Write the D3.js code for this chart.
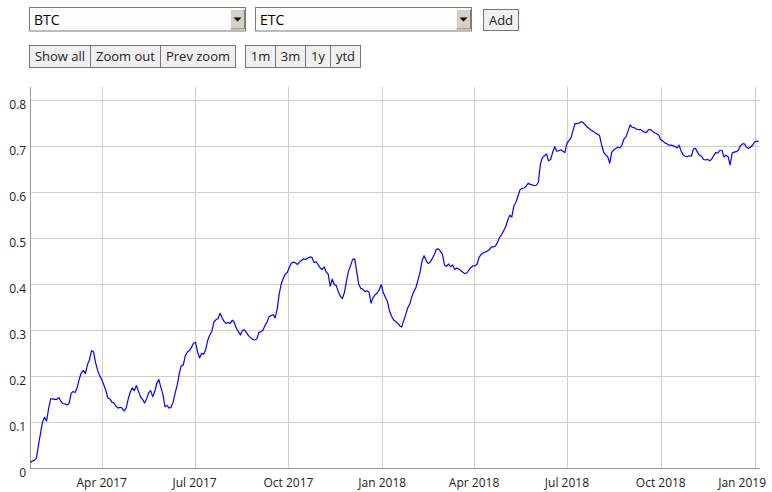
<!DOCTYPE html>
<html><head><meta charset="utf-8">
<script src="https://cdn.jsdelivr.net/npm/d3@7"></script>
<style>
body{margin:0;background:#fff;}
svg{display:block;font-family:"Open Sans",sans-serif;}
</style>
</head><body>
<svg id="c" width="772" height="492"></svg>
<script>
// ---- data ----
const startDate = "2017-01-21";
const stepDays = 2;
const values = [
.012,.015,.017,.021,.050,.075,.100,.110,.102,.130,
.150,.150,.149,.149,.153,.145,.140,.139,.137,.140,
.162,.166,.164,.175,.193,.207,.212,.205,.224,.235,
.255,.252,.229,.212,.200,.192,.181,.169,.152,.150,
.143,.141,.134,.130,.132,.130,.124,.130,.150,.165,
.174,.168,.179,.167,.155,.149,.141,.150,.163,.168,
.155,.166,.184,.192,.175,.160,.133,.136,.130,.132,
.143,.163,.180,.205,.222,.224,.244,.252,.255,.262,
.271,.273,.252,.239,.249,.247,.258,.278,.289,.297,
.317,.322,.324,.336,.326,.318,.314,.316,.314,.321,
.316,.303,.296,.289,.299,.300,.294,.287,.283,.279,
.278,.280,.294,.296,.299,.309,.317,.328,.331,.333,
.326,.345,.378,.400,.412,.421,.425,.436,.445,.447,
.445,.442,.447,.451,.454,.453,.456,.458,.458,.446,
.448,.442,.435,.431,.437,.426,.421,.395,.410,.398,
.396,.382,.373,.368,.382,.407,.428,.440,.453,.454,
.426,.399,.390,.388,.383,.385,.382,.358,.370,.376,
.380,.387,.398,.381,.371,.362,.342,.330,.322,.318,
.315,.309,.306,.320,.333,.348,.356,.372,.383,.392,
.408,.425,.450,.461,.451,.444,.447,.455,.463,.475,
.476,.471,.464,.441,.438,.443,.437,.441,.431,.434,
.432,.429,.425,.422,.424,.430,.436,.439,.439,.443,
.458,.464,.467,.469,.471,.474,.480,.480,.482,.490,
.501,.507,.515,.524,.538,.549,.545,.569,.577,.590,
.604,.607,.608,.612,.618,.616,.615,.613,.614,.620,
.660,.674,.678,.682,.667,.670,.685,.698,.688,.689,
.691,.688,.685,.705,.711,.717,.733,.748,.748,.749,
.752,.750,.745,.740,.737,.733,.731,.727,.725,.722,
.702,.686,.680,.676,.662,.686,.691,.694,.697,.695,
.702,.715,.719,.732,.745,.740,.739,.736,.735,.735,
.732,.729,.729,.735,.735,.731,.728,.726,.723,.713,
.710,.706,.704,.701,.701,.700,.698,.695,.701,.688,
.680,.677,.676,.678,.677,.693,.694,.686,.679,.677,
.670,.669,.670,.667,.671,.679,.685,.684,.690,.690,
.675,.679,.676,.658,.684,.686,.687,.690,.699,.704,
.704,.697,.694,.697,.701,.708,.710,.709
];
const xTickDates = ["2017-04-01","2017-07-01","2017-10-01","2018-01-01","2018-04-01","2018-07-01","2018-10-01","2019-01-01"];
const xTickLabels = ["Apr 2017","Jul 2017","Oct 2017","Jan 2018","Apr 2018","Jul 2018","Oct 2018","Jan 2019"];
const yTicks = [0,0.1,0.2,0.3,0.4,0.5,0.6,0.7,0.8];
const yTickLabels = ["0","0.1","0.2","0.3","0.4","0.5","0.6","0.7","0.8"];
const selectLabels = ["BTC","ETC"];
const addLabel = "Add";
const zoomButtons = ["Show all","Zoom out","Prev zoom"];
const rangeButtons = ["1m","3m","1y","ytd"];

(function(){
// ---- setup ----
const parse = d3.utcParse("%Y-%m-%d");
const t0 = parse(startDate);
const series = values.map((v,i)=>({date:d3.utcDay.offset(t0, i*stepDays), value:v}));
const svg = d3.select("#c");

const plotLeft = 30.3, plotRight = 758.7, plotTop = 87, plotBottom = 468;
const x = d3.scaleUtc().domain([t0, series[series.length-1].date]).range([plotLeft, plotRight]);
const y = d3.scaleLinear().domain([0, 0.8]).range([468, 99.6]);

// ---- controls ----
function drawSelect(x0, label){
  const g = svg.append("g");
  g.append("rect").attr("x",x0+0.5).attr("y",7.5).attr("width",216).attr("height",23.5)
    .attr("fill","#fdfdfd").attr("stroke","#7a7a7a");
  g.append("text").attr("x",x0+5).attr("y",25).attr("font-size",14).attr("fill","#000").text(label);
  const bx = x0+201.5, by = 9.5;
  g.append("rect").attr("x",bx).attr("y",by).attr("width",14).attr("height",19.5).attr("fill","#d4d0c8");
  g.append("path").attr("d",`M${bx},${by+19.5}V${by}H${bx+14}`).attr("fill","none").attr("stroke","#fff");
  g.append("path").attr("d",`M${bx},${by+19.5}H${bx+14}V${by}`).attr("fill","none").attr("stroke","#808080");
  const cx = bx+7, cy = by+10;
  g.append("path").attr("d",`M${cx-4},${cy-2}H${cx+4}L${cx},${cy+2}Z`).attr("fill","#000");
}
drawSelect(29, selectLabels[0]);
drawSelect(255, selectLabels[1]);

function drawButtons(labels, x0, y0, h){
  let cx = x0;
  labels.forEach(lab=>{
    const g = svg.append("g");
    const r = g.append("rect").attr("y",y0).attr("height",h).attr("fill","#f0f0f0").attr("stroke","#767676");
    const t = g.append("text").attr("y",y0+h/2+4.5).attr("font-size",13).attr("fill","#222").attr("text-anchor","middle").text(lab);
    const w = Math.round(t.node().getComputedTextLength() + 11);
    r.attr("x",cx).attr("width",w);
    t.attr("x",cx + w/2);
    cx += w;
  });
}
drawButtons([addLabel], 483.5, 9.5, 21);
drawButtons(zoomButtons, 29.5, 45.5, 22);
drawButtons(rangeButtons, 245.5, 45.5, 22);

// ---- grid ----
const grid = svg.append("g");
yTicks.forEach(v=>{
  if (v===0) return;
  const yy = Math.round(y(v))+0.5;
  grid.append("line").attr("x1",plotLeft).attr("x2",plotRight+1).attr("y1",yy).attr("y2",yy)
    .attr("stroke","#cfcfcf").attr("stroke-width",1);
});
xTickDates.forEach(d=>{
  const xx = Math.round(x(parse(d)))+0.5;
  grid.append("line").attr("x1",xx).attr("x2",xx).attr("y1",plotTop).attr("y2",plotBottom)
    .attr("stroke","#cfcfcf").attr("stroke-width",1);
});

// ---- axes lines ----
svg.append("line").attr("x1",30.5).attr("x2",30.5).attr("y1",plotTop).attr("y2",468.5).attr("stroke","#9a9a9a");
svg.append("line").attr("x1",30).attr("x2",plotRight+1).attr("y1",468.5).attr("y2",468.5).attr("stroke","#9a9a9a");

// ---- labels ----
yTicks.forEach((v,i)=>{
  svg.append("text").attr("x",26).attr("y",y(v)+9).attr("text-anchor","end")
    .attr("font-size",12).attr("fill","#222").text(yTickLabels[i]);
});
xTickDates.forEach((d,i)=>{
  const xx = x(parse(d));
  const t = svg.append("text").attr("x",xx).attr("y",487).attr("text-anchor","middle")
    .attr("font-size",12).attr("fill","#222").text(xTickLabels[i]);
  const w = t.node().getComputedTextLength();
  if (xx + w/2 > 766) t.attr("x", 766 - w/2);
});

// ---- line ----
const line = d3.line().x(d=>x(d.date)).y(d=>y(d.value));
svg.append("path").datum(series).attr("d",line).attr("fill","none")
  .attr("stroke","#0000ff").attr("stroke-width",1.2).attr("stroke-linejoin","round");
})();
</script>
</body></html>
